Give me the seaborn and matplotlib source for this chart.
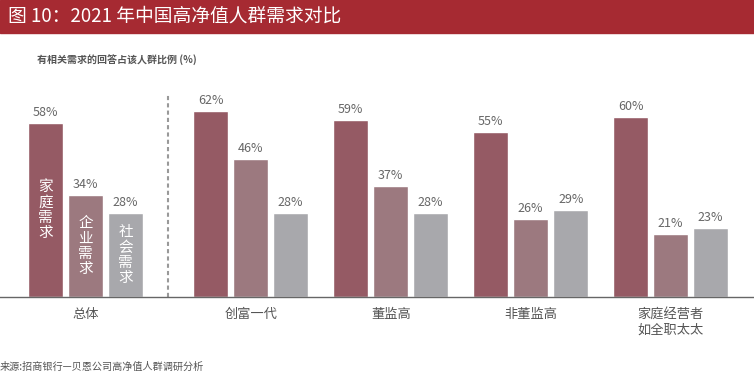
import pandas as pd
import seaborn as sns
import matplotlib.pyplot as plt
from matplotlib.patches import Rectangle

# Data
groups = ["总体", "创富一代", "董监高", "非董监高", "家庭经营者\n如全职太太"]
group_pos = [0.0, 1.18, 2.18, 3.18, 4.18]
series = ["家庭需求", "企业需求", "社会需求"]
family = [58, 62, 59, 55, 60]
business = [34, 46, 37, 26, 21]
social = [28, 28, 28, 29, 23]

colors = ["#955a64", "#9c797f", "#a8a8ac"]

df = pd.DataFrame({
    "pos": group_pos * 3,
    "value": family + business + social,
    "series": [s for s in series for _ in groups],
})

sns.set_theme(style="white")
plt.rcParams["font.family"] = ["Noto Sans CJK SC", "DejaVu Sans"]

fig = plt.figure(figsize=(7.54, 3.83), dpi=100)
ax = fig.add_axes([0, 86 / 383, 1, 207 / 383])

sns.barplot(
    data=df, x="pos", y="value", hue="series", hue_order=series,
    palette=colors, native_scale=True, width=0.857, gap=0.125,
    saturation=1, legend=False, ax=ax,
)

ax.set_xlim(-0.611, 4.775)
ax.set_ylim(0, 69)

for cont in ax.containers:
    ax.bar_label(cont, labels=[f"{v:.0f}%" for v in cont.datavalues],
                 padding=3, fontsize=9, color="#666666")

# series names written vertically inside the first group's bars
for cont, name in zip(ax.containers, series):
    bar = cont.patches[0]
    ax.text(bar.get_x() + bar.get_width() / 2, bar.get_height() / 2,
            "\n".join(name), ha="center", va="center", color="white",
            fontsize=10.5, linespacing=1.1)

ax.axvline(0.586, ymin=0, ymax=0.985, color="#999999", lw=1.5,
           linestyle=(0, (2, 1.5)))

ax.set_xticks(group_pos)
ax.set_xticklabels(groups, fontsize=9.5, color="#555555", linespacing=1.3)
ax.tick_params(axis="x", length=0, pad=8)
ax.set_yticks([])
ax.set_xlabel("")
ax.set_ylabel("")
for side in ["top", "left", "right"]:
    ax.spines[side].set_visible(False)
ax.spines["bottom"].set_color("#666666")
ax.spines["bottom"].set_linewidth(1)

# header band
fig.patches.append(Rectangle((0, 1 - 32.5 / 383), 1, 32.5 / 383,
                             transform=fig.transFigure, color="#a62a32",
                             zorder=0))
fig.text(8 / 754, 1 - 16 / 383, "图 10：2021 年中国高净值人群需求对比",
         color="white", fontsize=13.5, va="center", ha="left")
fig.text(37 / 754, 1 - 60 / 383, "有相关需求的回答占该人群比例 (%)",
         color="#555555", fontsize=7.2, fontweight="bold", va="center")
fig.text(0, 1 - 367 / 383, "来源:招商银行—贝恩公司高净值人群调研分析",
         color="#555555", fontsize=7.3, va="center")

fig.savefig("out.png", dpi=100)
